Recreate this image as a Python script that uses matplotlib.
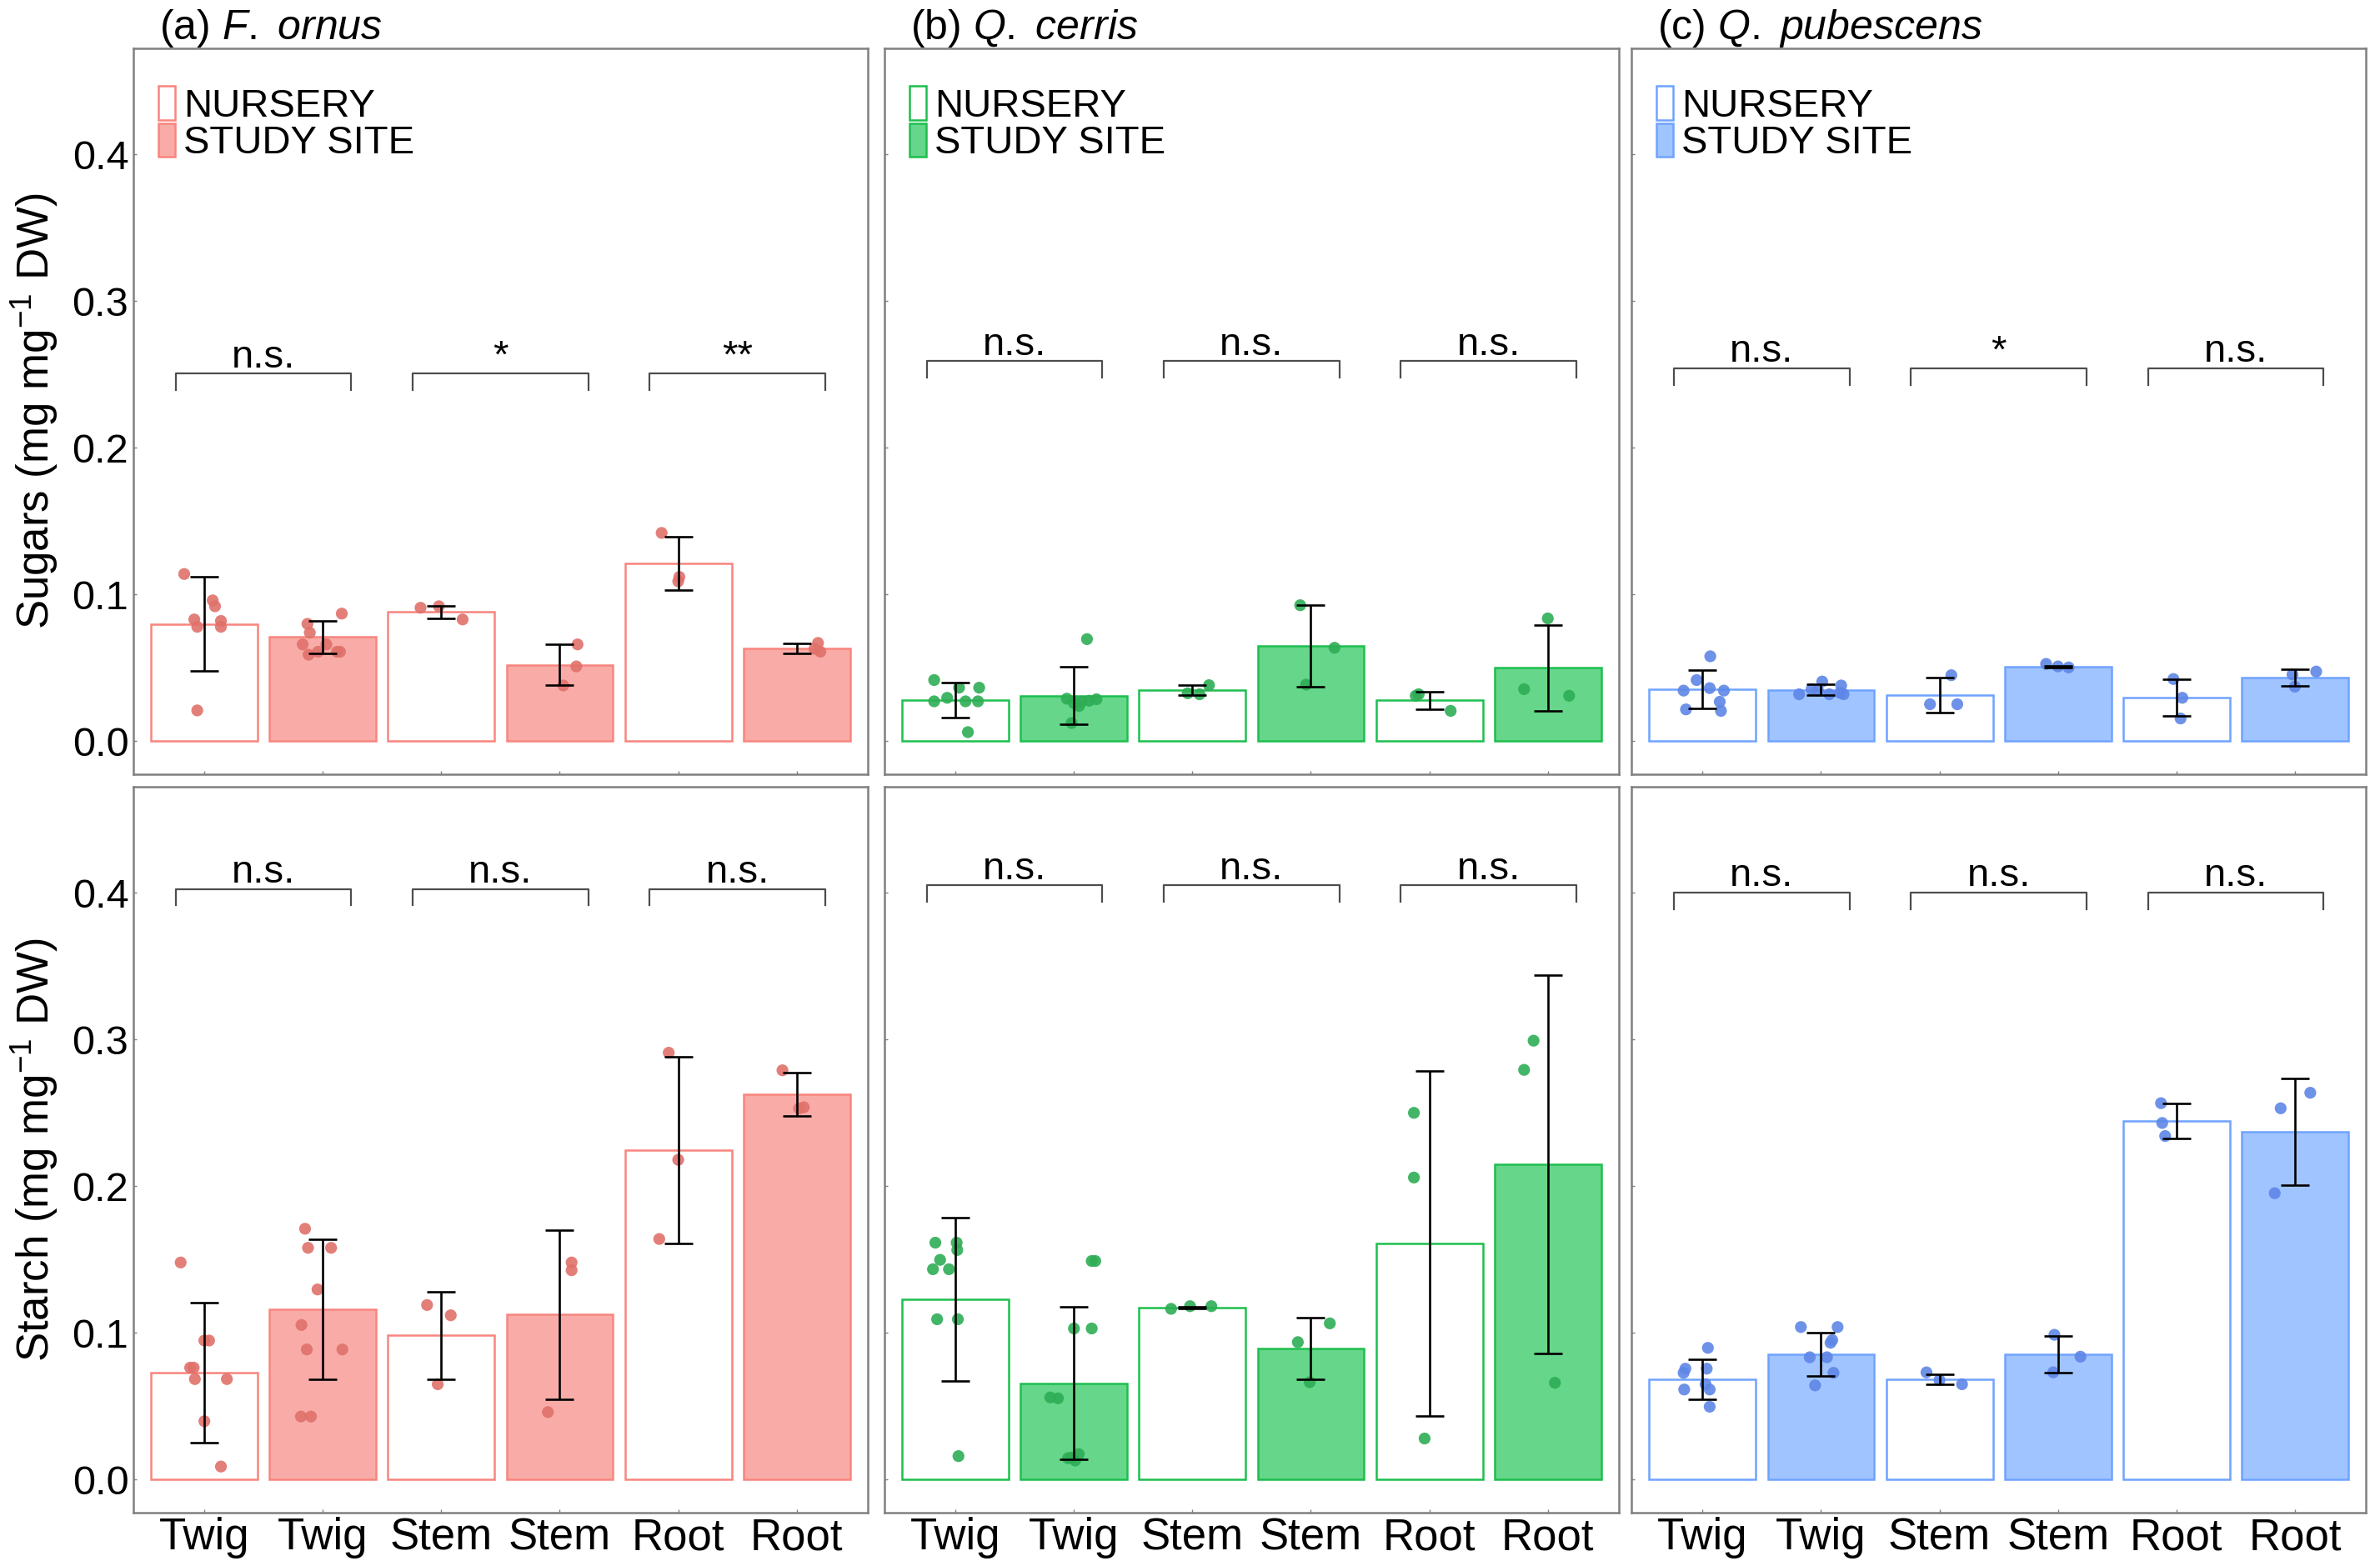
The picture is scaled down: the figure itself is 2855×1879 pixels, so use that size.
import numpy as np
import matplotlib
matplotlib.use('Agg')
import matplotlib.pyplot as plt
from matplotlib.patches import Patch

plt.rcParams['font.family'] = ['Liberation Sans', 'DejaVu Sans']
plt.rcParams['mathtext.fontset'] = 'custom'
plt.rcParams['mathtext.rm'] = 'Liberation Sans'
plt.rcParams['mathtext.it'] = 'Liberation Sans:italic'

# categories
organs = ['Twig', 'Twig', 'Stem', 'Stem', 'Root', 'Root']
titles = [r'(a) $\it{F.\ ornus}$', r'(b) $\it{Q.\ cerris}$', r'(c) $\it{Q.\ pubescens}$']
legend_labels = ['NURSERY', 'STUDY SITE']

# sugars: bar means and error half-widths (N, S alternating)
sug_fo = [0.080, 0.071, 0.088, 0.052, 0.121, 0.063]
sug_fo_err = [0.032, 0.011, 0.0041, 0.0139, 0.0182, 0.0034]
sug_qc = [0.0283, 0.031, 0.0348, 0.0648, 0.0279, 0.050]
sug_qc_err = [0.0119, 0.0197, 0.0036, 0.0278, 0.006, 0.0293]
sug_qp = [0.0355, 0.0351, 0.0313, 0.0506, 0.0296, 0.0434]
sug_qp_err = [0.013, 0.0035, 0.0119, 0.0005, 0.0126, 0.0057]

# starch
sta_fo = [0.0728, 0.116, 0.0983, 0.1125, 0.2247, 0.2626]
sta_fo_err = [0.0478, 0.0478, 0.0297, 0.0577, 0.0635, 0.0149]
sta_qc = [0.1228, 0.0657, 0.1171, 0.0894, 0.1611, 0.2147]
sta_qc_err = [0.0555, 0.052, 0.0006, 0.0208, 0.1177, 0.129]
sta_qp = [0.0685, 0.0855, 0.0685, 0.0855, 0.2445, 0.2371]
sta_qp_err = [0.0137, 0.0147, 0.0035, 0.0125, 0.0117, 0.0366]

# individual samples (values) and their horizontal jitter
sug_fo_pts = [[0.114, 0.096, 0.092, 0.083, 0.082, 0.078, 0.078, 0.021],
              [0.087, 0.080, 0.074, 0.066, 0.066, 0.059, 0.061, 0.061, 0.061],
              [0.091, 0.092, 0.083],
              [0.066, 0.051, 0.038],
              [0.142, 0.112, 0.109],
              [0.067, 0.063, 0.061]]
sug_fo_jit = [[-0.17, 0.07, 0.09, -0.085, 0.14, -0.06, 0.14, -0.06],
              [0.16, -0.13, -0.11, -0.17, 0.03, -0.12, -0.04, 0.12, 0.145],
              [-0.175, -0.02, 0.18],
              [0.15, 0.14, 0.03],
              [-0.14, 0.01, 0.0],
              [0.18, 0.15, 0.2]]
sug_qc_pts = [[0.0417, 0.0365, 0.0365, 0.0296, 0.0272, 0.0272, 0.0272, 0.0062],
              [0.0696, 0.029, 0.026, 0.027, 0.0276, 0.0286, 0.024, 0.0124],
              [0.0382, 0.0327, 0.032],
              [0.0927, 0.0637, 0.0386],
              [0.031, 0.032, 0.0207],
              [0.0837, 0.0355, 0.031]]
sug_qc_jit = [[-0.18, 0.03, 0.2, -0.07, -0.18, 0.085, 0.19, 0.105],
              [0.11, -0.06, 0.0, 0.064, 0.128, 0.19, 0.043, -0.02],
              [0.14, -0.04, 0.06],
              [-0.09, 0.2, -0.04],
              [-0.115, -0.09, 0.18],
              [0.0, -0.2, 0.18]]
sug_qp_pts = [[0.0579, 0.0417, 0.0345, 0.0362, 0.0345, 0.0269, 0.0217, 0.0207],
              [0.0407, 0.0355, 0.0345, 0.038, 0.032, 0.032, 0.032, 0.033],
              [0.045, 0.0252, 0.0252],
              [0.0527, 0.051, 0.0503],
              [0.0424, 0.0296, 0.0155],
              [0.0475, 0.0455, 0.0372]]
sug_qp_jit = [[0.065, -0.05, -0.16, 0.06, 0.18, 0.145, -0.14, 0.155],
              [0.01, -0.08, -0.025, 0.17, 0.19, -0.185, 0.07, 0.16],
              [0.1, -0.08, 0.15],
              [-0.1, 0.0, 0.09],
              [-0.025, 0.05, 0.035],
              [0.18, -0.02, 0.0]]

sta_fo_pts = [[0.148, 0.0948, 0.0948, 0.0763, 0.0763, 0.0685, 0.0685, 0.0398, 0.0089],
              [0.171, 0.158, 0.158, 0.1296, 0.1054, 0.0887, 0.0887, 0.043, 0.043],
              [0.119, 0.112, 0.065],
              [0.148, 0.1427, 0.046],
              [0.291, 0.218, 0.164],
              [0.279, 0.2538, 0.253]]
sta_fo_jit = [[-0.2, 0.0, 0.04, -0.12, -0.09, -0.08, 0.19, 0.0, 0.14],
              [-0.15, -0.125, 0.07, -0.045, -0.18, -0.135, 0.165, -0.185, -0.1],
              [-0.12, 0.08, -0.03],
              [0.1, 0.1, -0.1],
              [-0.08, 0.0, -0.16],
              [-0.12, 0.06, 0.02]]
sta_qc_pts = [[0.1615, 0.1615, 0.1565, 0.1498, 0.1434, 0.1434, 0.1093, 0.1093, 0.016],
              [0.149, 0.149, 0.103, 0.103, 0.056, 0.0554, 0.0146, 0.0174, 0.015, 0.013],
              [0.1164, 0.1182, 0.1182],
              [0.1065, 0.0937, 0.0664],
              [0.250, 0.2059, 0.028],
              [0.2992, 0.2793, 0.066]]
sta_qc_jit = [[-0.17, 0.01, 0.015, -0.13, -0.19, -0.055, -0.155, 0.02, 0.025],
              [0.15, 0.18, 0.0, 0.15, -0.2, -0.135, -0.05, 0.04, -0.02, 0.01],
              [-0.18, -0.02, 0.16],
              [0.16, -0.11, -0.01],
              [-0.13, -0.13, -0.04],
              [-0.12, -0.2, 0.06]]
sta_qp_pts = [[0.0898, 0.0756, 0.0756, 0.0728, 0.065, 0.0614, 0.0614, 0.0497],
              [0.104, 0.104, 0.0951, 0.0933, 0.0834, 0.0834, 0.0728, 0.0642],
              [0.0731, 0.0678, 0.065],
              [0.0987, 0.0838, 0.0731],
              [0.2566, 0.2431, 0.2342],
              [0.2637, 0.2531, 0.1952]]
sta_qp_jit = [[0.045, -0.145, 0.035, -0.16, 0.025, 0.06, -0.155, 0.06],
              [-0.17, 0.14, 0.095, 0.08, -0.095, 0.05, 0.105, -0.05],
              [-0.11, 0.0, 0.19],
              [-0.03, 0.19, -0.04],
              [-0.13, -0.12, -0.095],
              [0.13, -0.12, -0.17]]

# significance brackets
sug_sig = [['n.s.', '*', '**'], ['n.s.', 'n.s.', 'n.s.'], ['n.s.', '*', 'n.s.']]
sug_sig_y = [0.2505, 0.259, 0.254]
sta_sig = [['n.s.', 'n.s.', 'n.s.'], ['n.s.', 'n.s.', 'n.s.'], ['n.s.', 'n.s.', 'n.s.']]
sta_sig_y = [0.4025, 0.405, 0.400]

# colours per species: edge, fill, point
edge_cols = ['#F8857E', '#1DBF4E', '#6FA3FF']
fill_cols = ['#F9ACA7', '#66D68A', '#A0C4FF']
pt_cols = ['#E0716B', '#2EAD55', '#5E86E6']

rows = [
    dict(means=[sug_fo, sug_qc, sug_qp], errs=[sug_fo_err, sug_qc_err, sug_qp_err],
         pts=[sug_fo_pts, sug_qc_pts, sug_qp_pts], jit=[sug_fo_jit, sug_qc_jit, sug_qp_jit],
         sig=sug_sig, sig_y=sug_sig_y, ylabel=r'Sugars (mg mg$^{-1}$ DW)'),
    dict(means=[sta_fo, sta_qc, sta_qp], errs=[sta_fo_err, sta_qc_err, sta_qp_err],
         pts=[sta_fo_pts, sta_qc_pts, sta_qp_pts], jit=[sta_fo_jit, sta_qc_jit, sta_qp_jit],
         sig=sta_sig, sig_y=sta_sig_y, ylabel=r'Starch (mg mg$^{-1}$ DW)'),
]

fig = plt.figure(figsize=(28.55, 18.79), dpi=100)
lefts = [0.0560, 0.3716, 0.6855]
bottoms = [0.5056, 0.0341]
w, h = 0.3086, 0.4637
x = np.arange(1, 7)

for r, row in enumerate(rows):
    for c in range(3):
        ax = fig.add_axes([lefts[c], bottoms[r], w, h])
        means = row['means'][c]
        errs = row['errs'][c]
        faces = ['white' if i % 2 == 0 else fill_cols[c] for i in range(6)]
        ax.bar(x, means, width=0.9, color=faces, edgecolor=edge_cols[c],
               linewidth=1.8, zorder=2)
        for i in range(6):
            px = x[i] + np.array(row['jit'][c][i])
            ax.scatter(px, row['pts'][c][i], s=105, color=pt_cols[c], alpha=0.9,
                       edgecolors='none', zorder=3)
        ax.errorbar(x, means, yerr=errs, fmt='none', ecolor='black',
                    elinewidth=1.9, capsize=12.5, capthick=1.9, zorder=4)
        # brackets
        by = row['sig_y'][c]
        for k in range(3):
            x1, x2 = x[2 * k] - 0.24, x[2 * k + 1] + 0.24
            ax.plot([x1, x1, x2, x2], [by - 0.011, by, by, by - 0.011],
                    color='#4d4d4d', lw=1.6, zorder=2)
            ax.text((x1 + x2) / 2, by + 0.0045, row['sig'][c][k], ha='center',
                    va='baseline', fontsize=34, color='black')

        ax.set_xlim(0.4, 6.6)
        ax.set_ylim(-0.0225, 0.4725)
        ax.set_yticks([0.0, 0.1, 0.2, 0.3, 0.4])
        ax.set_xticks(x)
        for sp in ax.spines.values():
            sp.set_color('#808080')
            sp.set_linewidth(1.8)
        ax.tick_params(direction='in', length=3, width=1, color='#808080', pad=4)
        ax.tick_params(axis='y', labelsize=35)
        ax.tick_params(axis='x', labelsize=38)
        if c == 0:
            ax.set_yticklabels(['0.0', '0.1', '0.2', '0.3', '0.4'])
        else:
            ax.set_yticklabels([])
        if r == 1:
            ax.set_xticklabels(organs)
        else:
            ax.set_xticklabels([])

        if r == 0:
            ax.text(0.035, 1.012, titles[c], transform=ax.transAxes, fontsize=36,
                    ha='left', va='baseline')
            handles = [Patch(facecolor='white', edgecolor=edge_cols[c], linewidth=1.8),
                       Patch(facecolor=fill_cols[c], edgecolor=edge_cols[c], linewidth=1.8)]
            ax.legend(handles, legend_labels, loc='upper left',
                      bbox_to_anchor=(0.034, 0.948), frameon=False, fontsize=34,
                      handlelength=0.42, handleheight=0.95, handletextpad=0.22,
                      labelspacing=-0.04, borderpad=0, borderaxespad=0)

    fig.text(0.0147, bottoms[r] + h / 2, row['ylabel'], rotation=90,
             ha='center', va='center', fontsize=38)

fig.savefig('out.png', dpi=100)
